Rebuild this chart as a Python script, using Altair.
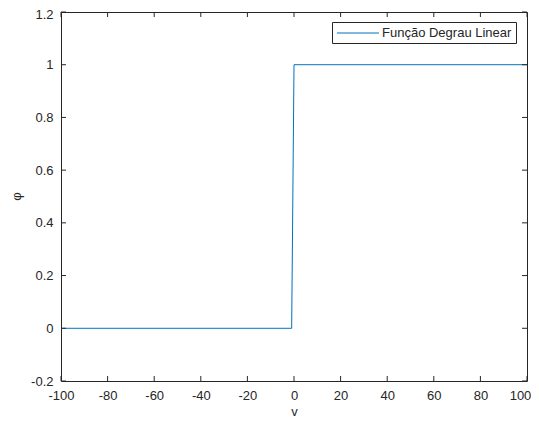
import altair as alt
import pandas as pd

# ---- data ----
v_values = [-100, -1, 0, 100]
phi_values = [0, 0, 1, 1]
x_ticks = [-100, -80, -60, -40, -20, 0, 20, 40, 60, 80, 100]
y_ticks = [-0.2, 0, 0.2, 0.4, 0.6, 0.8, 1, 1.2]
series_name = ["Função Degrau Linear"]

W, H = 466, 369
axis_color = "#262626"
line_color = "#0072BD"
font = "Liberation Sans"

line_df = pd.DataFrame({"v": v_values, "phi": phi_values})
xt = pd.DataFrame({"v": x_ticks})
yt = pd.DataFrame({"phi": y_ticks})
leg = pd.DataFrame({"serie": series_name})

xscale = alt.Scale(domain=[-100, 100], nice=False, zero=False)
yscale = alt.Scale(domain=[-0.2, 1.2], nice=False, zero=False)

x_axis = alt.Axis(values=x_ticks, title="v", labelExpr="'' + datum.value",
                  labelPadding=8, labelFlush=False, titleX=233, titleY=34,
                  labelOffset={"condition": {"test": "datum.value == 100", "value": -7}, "value": 0},
                  titleBaseline="alphabetic", titleAlign="center")
y_axis = alt.Axis(values=y_ticks, title="φ", labelExpr="'' + datum.value",
                  labelPadding=8, labelFlush=False, titleX=-45, titleY=184, titleAngle=270,
                  labelOffset={"condition": {"test": "datum.value == 1.2", "value": 2.5}, "value": 0},
                  titleBaseline="middle", titleAlign="center")

X = alt.X("v:Q", scale=xscale, axis=x_axis)
Y = alt.Y("phi:Q", scale=yscale, axis=y_axis)

line = alt.Chart(line_df).mark_line(strokeWidth=1, clip=True).encode(
    x=X, y=Y, color=alt.value(line_color))

tick_len = 5
xb = alt.Chart(xt).mark_rule(strokeWidth=1).encode(
    x=X, y=alt.value(H), y2=alt.value(H - tick_len), color=alt.value(axis_color))
xtp = alt.Chart(xt).mark_rule(strokeWidth=1).encode(
    x=X, y=alt.value(0), y2=alt.value(tick_len), color=alt.value(axis_color))
yl = alt.Chart(yt).mark_rule(strokeWidth=1).encode(
    y=Y, x=alt.value(0), x2=alt.value(tick_len), color=alt.value(axis_color))
yr = alt.Chart(yt).mark_rule(strokeWidth=1).encode(
    y=Y, x=alt.value(W), x2=alt.value(W - tick_len), color=alt.value(axis_color))

# legend (decoration)
leg_box = alt.Chart(leg).mark_rect(fill="white", stroke=axis_color, strokeWidth=1).encode(
    x=alt.value(271.5), x2=alt.value(455.5), y=alt.value(10.5), y2=alt.value(31.5))
leg_line = alt.Chart(leg).mark_rule(strokeWidth=1).encode(
    x=alt.value(276), x2=alt.value(318), y=alt.value(21), color=alt.value(line_color))
leg_text = alt.Chart(leg).mark_text(align="left", baseline="middle", font=font,
                                     fontSize=13).encode(
    x=alt.value(321), y=alt.value(21), text="serie:N", color=alt.value(axis_color))

chart = alt.layer(line, xb, xtp, yl, yr, leg_box, leg_line, leg_text).properties(
    width=W, height=H,
    autosize=alt.AutoSizeParams(type="none"),
    padding={"left": 53, "top": 4, "right": 4, "bottom": 36},
).configure_view(stroke=axis_color, strokeWidth=1).configure_axis(
    domain=False, ticks=False, tickSize=0, grid=False, labelOverlap=False,
    labelFont=font, labelFontSize=13, labelColor=axis_color,
    titleFont=font, titleFontSize=13, titleFontWeight="normal", titleColor=axis_color,
)

chart.save("out.html", embed_options={"renderer": "svg", "actions": False})
